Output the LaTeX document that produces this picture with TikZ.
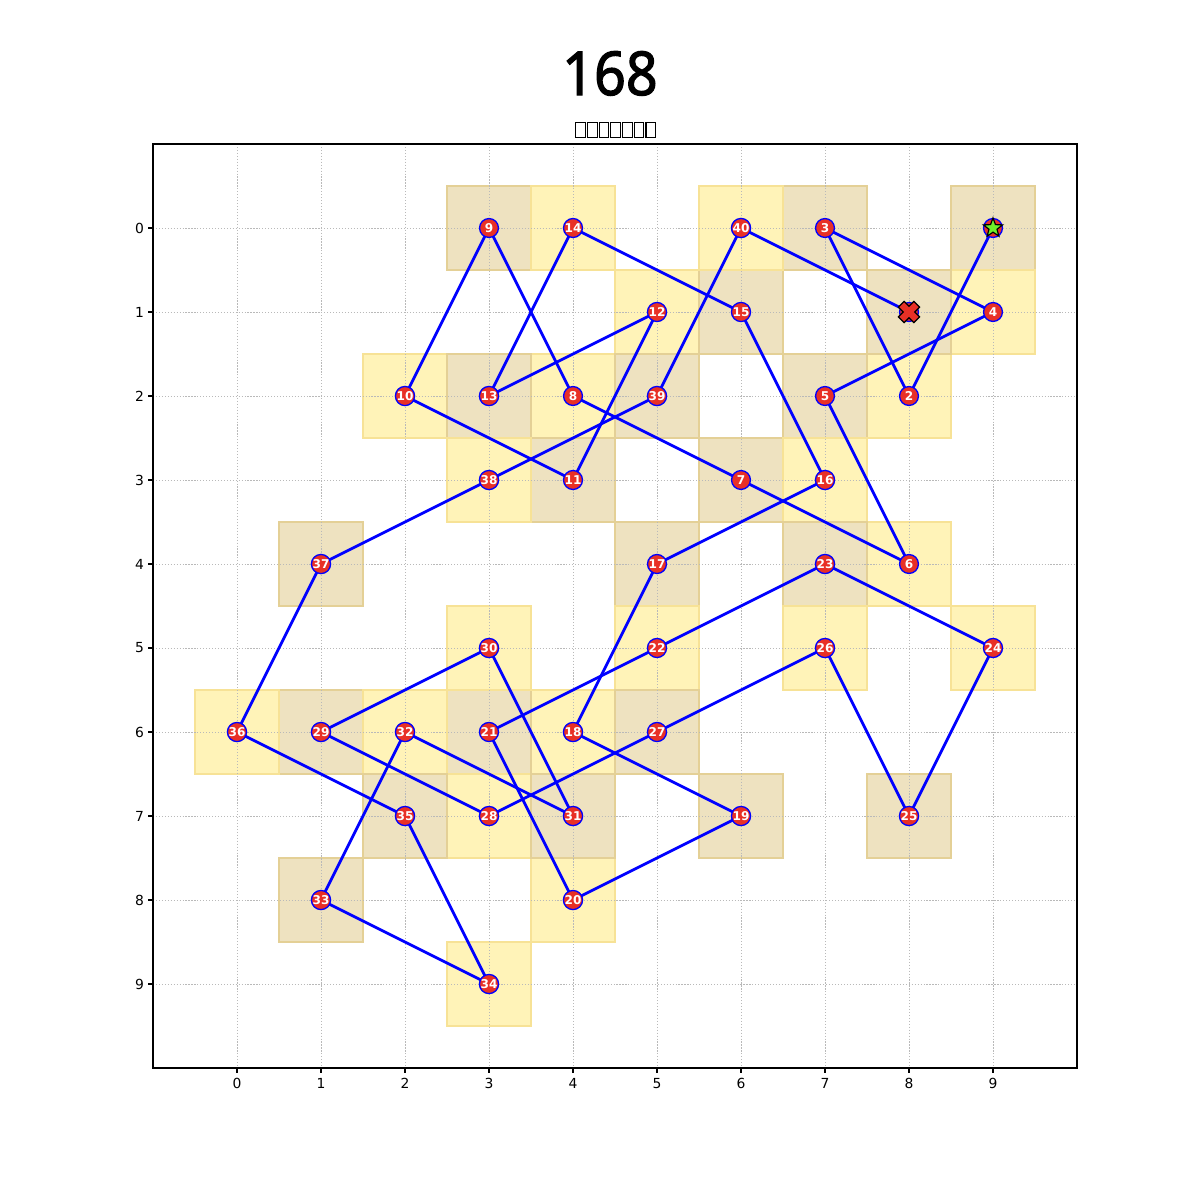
\documentclass[tikz,border=0pt]{standalone}
\usepackage{fontspec}
\setmainfont{DejaVu Sans}
\newfontfamily\titlefont{Noto Sans}[FakeBold=2]
\usetikzlibrary{shapes.geometric}
\definecolor{cellY}{RGB}{255,243,184}
\definecolor{cellYb}{RGB}{247,226,150}
\definecolor{cellT}{RGB}{238,226,192}
\definecolor{cellTb}{RGB}{228,208,150}
\definecolor{knred}{RGB}{232,48,38}
\definecolor{gridgray}{RGB}{185,185,185}
\definecolor{stargreen}{RGB}{110,240,40}
\pgfdeclarelayer{bg}
\pgfsetlayers{bg,main}
\tikzset{
  kn/.style={circle, fill=knred, draw=blue, line width=0.45pt, minimum size=0.225cm, inner sep=0pt,
     text=white, font=\fontsize{4.1}{4.3}\selectfont\bfseries},
  path/.style={blue, line width=0.95pt},
  cellodd/.style={fill=cellT, draw=cellTb, line width=0.45pt},
  celleven/.style={fill=cellY, draw=cellYb, line width=0.45pt},
  gridline/.style={gridgray, line width=0.28pt, dash pattern=on 0.4pt off 0.6pt},
  ticklab/.style={font=\fontsize{4.7}{5.5}\selectfont, inner sep=0pt},
  tofu/.style={draw=black, line width=0.35pt}
}
\begin{document}
\begin{tikzpicture}[x=1cm,y=-1cm]
\useasboundingbox (-2.8214,-2.7143) rectangle (11.4643,11.5714);
% title
\node[font=\titlefont\fontsize{20.5}{24}\selectfont, inner sep=0pt] (title) at (4.44,-1.84) {\scalebox{0.92}[1]{168}};
% subtitle (rendered as missing-glyph boxes)
\foreach \k in {0,...,6}{
  \draw[tofu] ({4.035+0.139*\k},-1.255) rectangle ({4.035+0.139*\k+0.112},-1.075);
}
% nodes
\foreach \i/\x/\y in {2/8/2,3/7/0,4/9/1,5/7/2,6/8/4,7/6/3,8/4/2,9/3/0,10/2/2,11/4/3,12/5/1,13/3/2,14/4/0,15/6/1,16/7/3,17/5/4,18/4/6,19/6/7,20/4/8,21/3/6,22/5/5,23/7/4,24/9/5,25/8/7,26/7/5,27/5/6,28/3/7,29/1/6,30/3/5,31/4/7,32/2/6,33/1/8,34/3/9,35/2/7,36/0/6,37/1/4,38/3/3,39/5/2,40/6/0}{
  \node[kn] (n\i) at (\x,\y) {\i};
}
\node[kn] (n1) at (9,0) {};
\node[kn] (n41) at (8,1) {};
% start and end markers
\node[star, star points=5, star point ratio=2.4, fill=stargreen, draw=black, line width=0.4pt,
      minimum size=0.24cm, inner sep=0pt] (startmark) at (n1.center) {};
\draw[fill=knred, draw=black, line width=0.4pt, shift={(n41.center)}, rotate=45]
  (0.048,0.13) -- (0.048,0.048) -- (0.13,0.048) -- (0.13,-0.048) -- (0.048,-0.048) -- (0.048,-0.13)
  -- (-0.048,-0.13) -- (-0.048,-0.048) -- (-0.13,-0.048) -- (-0.13,0.048) -- (-0.048,0.048) -- (-0.048,0.13) -- cycle;
\begin{pgfonlayer}{bg}
  % cells
  \foreach \i/\x/\y in {1/9/0,2/8/2,3/7/0,4/9/1,5/7/2,6/8/4,7/6/3,8/4/2,9/3/0,10/2/2,11/4/3,12/5/1,13/3/2,14/4/0,15/6/1,16/7/3,17/5/4,18/4/6,19/6/7,20/4/8,21/3/6,22/5/5,23/7/4,24/9/5,25/8/7,26/7/5,27/5/6,28/3/7,29/1/6,30/3/5,31/4/7,32/2/6,33/1/8,34/3/9,35/2/7,36/0/6,37/1/4,38/3/3,39/5/2,40/6/0,41/8/1}{
    \ifodd\i
      \draw[cellodd] (\x-0.5,\y-0.5) rectangle (\x+0.5,\y+0.5);
    \else
      \draw[celleven] (\x-0.5,\y-0.5) rectangle (\x+0.5,\y+0.5);
    \fi
  }
  % grid
  \foreach \k in {0,...,9}{
    \draw[gridline] (\k,-1) -- (\k,10);
    \draw[gridline] (-1,\k) -- (10,\k);
  }
  % path
  \foreach \i [evaluate=\i as \j using int(\i+1)] in {1,...,40}{
    \draw[path] (n\i.center) -- (n\j.center);
  }
\end{pgfonlayer}
% axes frame
\draw[line width=0.38pt] (-1,-1) rectangle (10,10);
\foreach \k in {0,...,9}{
  \draw[line width=0.38pt] (\k,10) -- (\k,10.058);
  \node[ticklab] (xl\k) at (\k,10.18) {\k};
  \draw[line width=0.38pt] (-1,\k) -- (-1.058,\k);
  \node[ticklab, anchor=east] (yl\k) at (-1.1,\k) {\k};
}
\end{tikzpicture}
\end{document}
